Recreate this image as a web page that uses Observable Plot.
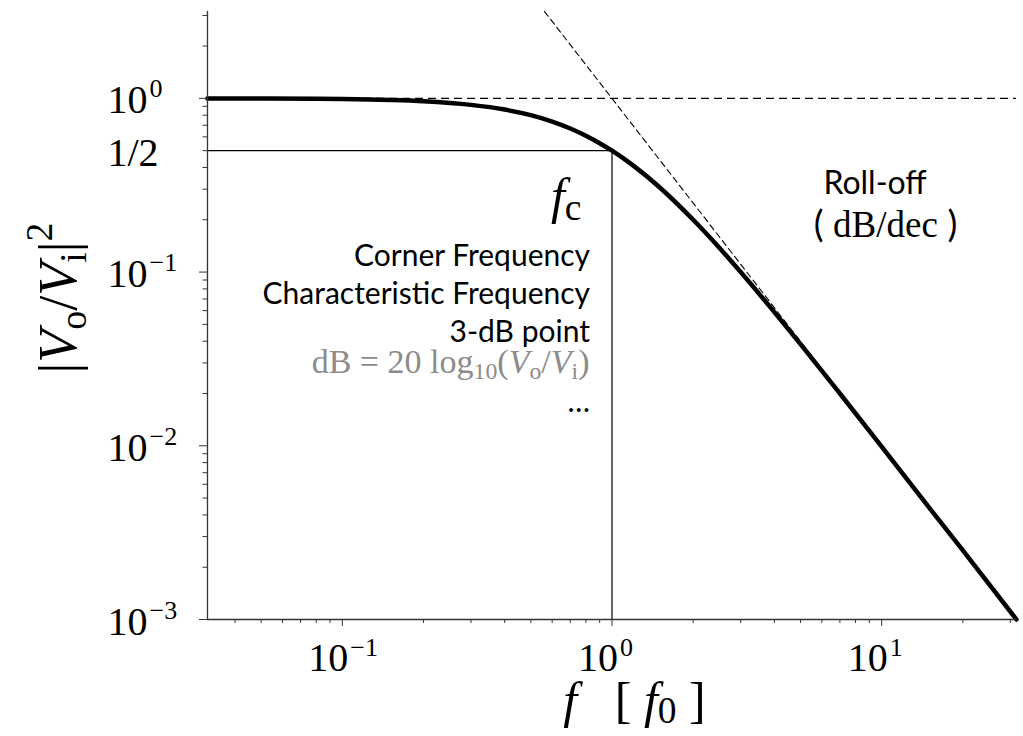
<!DOCTYPE html>
<html><head><meta charset="utf-8">
<script src="https://cdn.jsdelivr.net/npm/d3@7"></script>
<script src="https://cdn.jsdelivr.net/npm/@observablehq/plot@0.6"></script>
<style>html,body{margin:0;padding:0;background:#fff;} svg text{white-space:pre;}</style>
</head><body><div id="chart"></div>
<script>
// Response curve (f in units of f0, |Vo/Vi|^2)
const freq = [0.0316, 0.05, 0.08, 0.1, 0.15, 0.2, 0.3, 0.4, 0.5, 0.6, 0.7, 0.8, 0.9, 1.0, 1.2, 1.5, 2, 2.5, 3, 4, 5, 7, 10, 15, 20, 31.6];
const gain = [0.999, 0.9975, 0.9936, 0.990, 0.978, 0.962, 0.917, 0.862, 0.800, 0.735, 0.671, 0.610, 0.552, 0.500, 0.410, 0.308, 0.200, 0.138, 0.100, 0.0588, 0.0385, 0.0200, 0.0099, 0.0044, 0.0025, 0.0010];
// High-frequency asymptote (dashed)
const asymFreq = [0.562, 31.6];
const asymGain = [3.16, 0.001];
// Corner guide lines
const cornerFreq = [0.0316, 1, 1];
const cornerGain = [0.5, 0.5, 0.001];
const unityGain = [1];
// Axes
const xDomain = [0.03162, 31.62];
const yDomain = [0.001, 3.162];
const xMajor = [0.1, 1, 10];
const xExp = ["\u22121", "0", "1"];
const xMinor = [0.04, 0.05, 0.06, 0.07, 0.08, 0.09, 0.2, 0.3, 0.4, 0.5, 0.6, 0.7, 0.8, 0.9, 2, 3, 4, 5, 6, 7, 8, 9, 20, 30];
const yMajor = [0.001, 0.01, 0.1, 1];
const yExp = ["\u22123", "\u22122", "\u22121", "0"];
const yMinor = [0.002, 0.003, 0.004, 0.005, 0.006, 0.007, 0.008, 0.009, 0.02, 0.03, 0.04, 0.05, 0.06, 0.07, 0.08, 0.09, 0.2, 0.3, 0.4, 0.5, 0.6, 0.7, 0.8, 0.9, 2, 3];
const yHalf = [0.5];
const yHalfLabel = ["1/2"];
const annoLines = ["Corner Frequency", "Characteristic Frequency", "3-dB point"];
const annoEllipsis = ["\u2026"];
const rollText = ["Roll-off"];

const SERIF = "Liberation Serif, Times New Roman, serif";
const SANS = "Lato, Open Sans, sans-serif";
const AX = "#333";

const curve = freq.map((f, i) => ({f, g: gain[i]}));
const asym = asymFreq.map((f, i) => ({f, g: asymGain[i]}));
const corner = cornerFreq.map((f, i) => ({f, g: cornerGain[i]}));

const annoSize = 30;
const svg = Plot.plot({
  width: 1023, height: 736,
  marginLeft: 207, marginRight: 7, marginTop: 11, marginBottom: 117,
  style: {background: "white", overflow: "visible"},
  x: {type: "log", domain: xDomain},
  y: {type: "log", domain: yDomain},
  marks: [
    Plot.ruleY(unityGain, {y: d => d, stroke: "black", strokeWidth: 1.1, strokeDasharray: "8,5"}),
    Plot.line(asym, {x: "f", y: "g", stroke: "black", strokeWidth: 1.1, strokeDasharray: "6,4"}),
    Plot.line(corner, {x: "f", y: "g", stroke: "black", strokeWidth: 1.2}),
    Plot.line(curve, {x: "f", y: "g", stroke: "black", strokeWidth: 4.5, curve: "monotone-x"}),
    Plot.ruleX([xDomain[0]], {x: d => d, stroke: AX, strokeWidth: 1.3}),
    Plot.ruleY([yDomain[0]], {y: d => d, stroke: AX, strokeWidth: 1.3}),
    Plot.axisX({ticks: xMajor, tickSize: 7, tickFormat: () => "", label: null, stroke: AX}),
    Plot.axisX({ticks: xMinor, tickSize: 4, tickFormat: () => "", label: null, stroke: AX}),
    Plot.axisY({ticks: yMajor, tickSize: 8, tickFormat: () => "", label: null, stroke: AX}),
    Plot.axisY({ticks: yMinor, tickSize: 4.5, tickFormat: () => "", label: null, stroke: AX}),
    // y tick labels 10^n
    Plot.text(yMajor, {y: d => d, text: () => "10", frameAnchor: "left", dx: -100, textAnchor: "start", lineAnchor: "bottom", dy: 15, fontSize: 40, fontFamily: SERIF, fill: "black"}),
    Plot.text(yMajor, {y: d => d, text: (d, i) => yExp[i], frameAnchor: "left", dx: -58, textAnchor: "start", lineAnchor: "bottom", dy: -1, fontSize: 26, fontFamily: SERIF, fill: "black"}),
    Plot.text(yHalf, {y: d => d, text: (d, i) => yHalfLabel[i], frameAnchor: "left", dx: -100, textAnchor: "start", lineAnchor: "bottom", dy: 15, fontSize: 40, fontFamily: SERIF, fill: "black"}),
    // x tick labels 10^n
    Plot.text(xMajor, {x: d => d, text: () => "10", frameAnchor: "bottom", dx: 6, textAnchor: "end", lineAnchor: "bottom", dy: 51, fontSize: 40, fontFamily: SERIF, fill: "black"}),
    Plot.text(xMajor, {x: d => d, text: (d, i) => xExp[i], frameAnchor: "bottom", dx: 8, textAnchor: "start", lineAnchor: "bottom", dy: 36, fontSize: 26, fontFamily: SERIF, fill: "black"}),
    // annotations
    Plot.text([annoLines.join("\n")], {x: () => 1, text: d => d, frameAnchor: "top", dx: -22, dy: 249 - 0.71 * annoSize, textAnchor: "end", lineAnchor: "top", lineHeight: 38 / annoSize, fontSize: annoSize, fontFamily: SANS, fill: "black"}),
    Plot.text(annoEllipsis, {x: () => 1, text: d => d, frameAnchor: "top", dx: -22, dy: 400, textAnchor: "end", lineAnchor: "bottom", fontSize: annoSize, fontFamily: SANS, fill: "black"}),
    Plot.text(rollText, {x: () => 1, text: d => d, frameAnchor: "top", dx: 263, dy: 182, textAnchor: "middle", lineAnchor: "bottom", fontSize: 32, fontFamily: SANS, fill: "black"})
  ]
});
document.getElementById("chart").appendChild(svg);

const sx = svg.scale("x");
const root = d3.select(svg);

function mathText(x, y, anchor, size, parts, opts = {}) {
  const t = root.append("text")
    .attr("x", x).attr("y", y)
    .attr("text-anchor", anchor)
    .attr("font-family", opts.family || SERIF)
    .attr("font-size", size)
    .attr("fill", opts.fill || "black");
  if (opts.transform) t.attr("transform", opts.transform);
  let cur = 0;
  for (const p of parts) {
    const shift = p.shift || 0;
    const ts = t.append("tspan").text(p.t);
    if (p.italic) ts.attr("font-style", "italic");
    if (p.scale) ts.attr("font-size", size * p.scale);
    if (p.family) ts.attr("font-family", p.family);
    if (shift !== cur) { ts.attr("dy", shift - cur); cur = shift; }
  }
  return t;
}

const xc = sx.apply(1);
// f_c
mathText(xc - 30, 213, "end", 50, [
  {t: "f", italic: true},
  {t: "c", scale: 0.75, shift: 7}
]);
// dB formula (gray)
mathText(xc - 22, 373, "end", 34, [
  {t: "dB = 20 log"},
  {t: "10", scale: 0.7, shift: 6},
  {t: "(", shift: 0},
  {t: "V", italic: true},
  {t: "o", scale: 0.7, shift: 6},
  {t: "/", shift: 0},
  {t: "V", italic: true},
  {t: "i", scale: 0.7, shift: 6},
  {t: ")", shift: 0}
], {fill: "#8c8c8c"});
// ( dB/dec )
mathText(xc + 274, 237, "middle", 37, [
  {t: "( ", family: SANS},
  {t: "dB/dec"},
  {t: " )", family: SANS}
]);
// y label
mathText(0, 0, "middle", 54, [
  {t: "|"},
  {t: "V", italic: true},
  {t: "o", scale: 0.7, shift: 10},
  {t: "/", shift: 0},
  {t: "V", italic: true},
  {t: "i", scale: 0.7, shift: 10},
  {t: "|", shift: 0},
  {t: "2", scale: 0.7, shift: -24}
], {transform: "translate(76,298) rotate(-90)"});
// x label
mathText(xc + 23, 717, "middle", 50, [
  {t: "f", italic: true},
  {t: "   [ "},
  {t: "f", italic: true},
  {t: "0", scale: 0.75, shift: 6},
  {t: " ]", shift: 0}
]);
</script></body></html>
